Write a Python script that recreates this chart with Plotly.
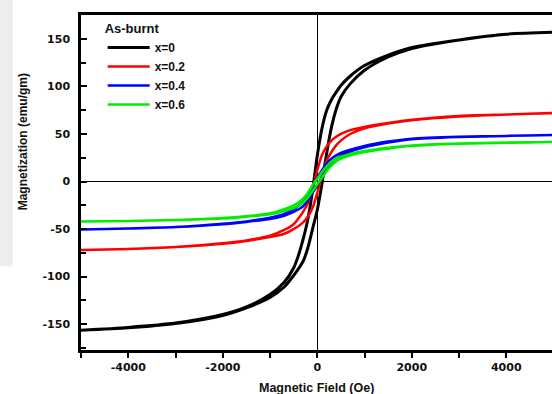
import plotly.graph_objects as go

# Field grid (Oe) on which each branch was read
H = [-5000, -4000, -3000, -2000, -1500, -1000, -700, -500, -400, -300, -200, -100, 0,
     100, 200, 300, 400, 500, 700, 1000, 1500, 2000, 3000, 4000, 5000]

series_names = ["x=0", "x=0.2", "x=0.4", "x=0.6"]
series_colors = ["#000000", "#ff0000", "#0000ff", "#00ee00"]

# Upper (descending) and lower (ascending) branch magnetization (emu/gm)
m_up_0 = [-156.5, -153.5, -149, -140, -132, -119, -106, -91, -78, -61, -40, -10, 27,
          56, 75, 86, 94, 101, 111, 122, 133, 141, 149, 155, 157]
m_dn_0 = [-156.5, -154, -149.5, -141, -133, -122, -111, -99, -92, -84, -70, -50, -30,
          -2, 30, 57, 76, 89, 103, 117, 131, 140, 149, 155, 157]

m_up_02 = [-72, -71, -69, -65, -62, -57, -51, -45, -39, -32, -23, -8, 12,
           28, 37, 43, 47, 50, 54, 57.5, 61.5, 65, 69, 70.5, 72]
m_dn_02 = [-72, -71, -69, -65.5, -62.5, -58.5, -55, -50, -47, -43, -37, -28, -12,
           6, 22, 31, 38, 43, 50, 56, 61, 64.5, 68.5, 70.5, 72]

m_up_04 = [-50.5, -49.5, -48, -44.5, -42, -38, -34, -29, -25.5, -21, -14, -5, 4,
           12, 19, 24, 27.5, 30, 33.5, 37.5, 42, 45, 47, 48, 49]
m_dn_04 = [-50.5, -49.5, -48, -45, -42.5, -39.5, -36, -32, -29.5, -26, -20, -12, -4,
           5, 13, 20, 24, 27, 31.5, 36, 41, 44.5, 46.8, 48, 49]

m_up_06 = [-42, -41.5, -40.5, -38.5, -36.5, -33.5, -29, -25, -22, -18, -12, -4, 3,
           10, 16, 21, 24, 26, 29, 32, 35.5, 38, 40, 41, 41.5]
m_dn_06 = [-42, -41.5, -40.5, -39, -37, -34.5, -31, -28, -25.5, -22, -17, -10, -3,
           4, 11, 17, 21, 24, 27.5, 31, 34.5, 37.5, 39.8, 40.8, 41.5]

upper = [m_up_0, m_up_02, m_up_04, m_up_06]
lower = [m_dn_0, m_dn_02, m_dn_04, m_dn_06]

y_ticks = [-150, -100, -50, 0, 50, 100, 150]
x_ticks = [-4000, -2000, 0, 2000, 4000]

fig = go.Figure()
for name, col, mu, md in zip(series_names, series_colors, upper, lower):
    xs = H[::-1] + H
    ys = mu[::-1] + md
    fig.add_trace(go.Scatter(
        x=xs, y=ys, mode="lines", name="<b>%s</b>" % name,
        line=dict(color=col, width=3 if name == "x=0" else 2.5,
                  shape="spline", smoothing=0.7),
    ))

tick_font = dict(family="DejaVu Sans", size=11, color="#111111")

fig.update_layout(
    width=552, height=394,
    margin=dict(l=81, r=0, t=15, b=44),
    paper_bgcolor="white", plot_bgcolor="white",
    showlegend=True,
    legend=dict(
        x=0.046, y=0.997, xanchor="left", yanchor="top",
        bgcolor="rgba(0,0,0,0)",
        title=dict(text="<b>As-burnt</b>",
                   font=dict(family="Liberation Sans", size=13, color="#111111")),
        font=dict(family="Liberation Sans", size=12, color="#111111"),
        itemwidth=42, tracegroupgap=0,
    ),
    xaxis=dict(
        range=[-5000, 4968], tickvals=x_ticks,
        ticktext=["<b>%d</b>" % v for v in x_ticks],
        ticks="outside", ticklen=5, tickwidth=2, tickcolor="black",
        minor=dict(dtick=1000, tick0=0, ticks="outside", ticklen=5,
                   tickwidth=2, tickcolor="black"),
        showline=True, linecolor="black", linewidth=2.5, mirror=True,
        showgrid=False, zeroline=True, zerolinecolor="black", zerolinewidth=1,
        tickfont=tick_font,
    ),
    yaxis=dict(
        range=[-177.3, 175.2], tickvals=y_ticks,
        ticktext=["<b>%d</b>" % v for v in y_ticks],
        ticks="inside", ticklen=6, tickwidth=2, tickcolor="black",
        minor=dict(dtick=25, tick0=0, ticks="inside", ticklen=5,
                   tickwidth=2, tickcolor="black"),
        showline=True, linecolor="black", linewidth=2.5, mirror=False,
        showgrid=False, zeroline=True, zerolinecolor="black", zerolinewidth=1,
        tickfont=tick_font, ticklabelstandoff=6,
    ),
    annotations=[
        dict(text="<b>Magnetization (emu/gm)</b>", textangle=-90,
             xref="paper", yref="paper", x=-0.123, y=0.62,
             xanchor="center", yanchor="middle", showarrow=False,
             font=dict(family="Liberation Sans", size=12, color="#111111")),
        dict(text="<b>Magnetic Field (Oe)</b>",
             xref="paper", yref="paper", x=0.5, y=-0.113,
             xanchor="center", yanchor="middle", showarrow=False,
             font=dict(family="Liberation Sans", size=12.5, color="#111111")),
    ],
    shapes=[
        dict(type="rect", xref="paper", yref="paper", layer="below",
             x0=-0.172, x1=-0.145, y0=0.25, y1=1.05,
             fillcolor="rgba(220,216,212,0.45)", line=dict(width=0)),
    ],
)

fig.write_html("out.html")
